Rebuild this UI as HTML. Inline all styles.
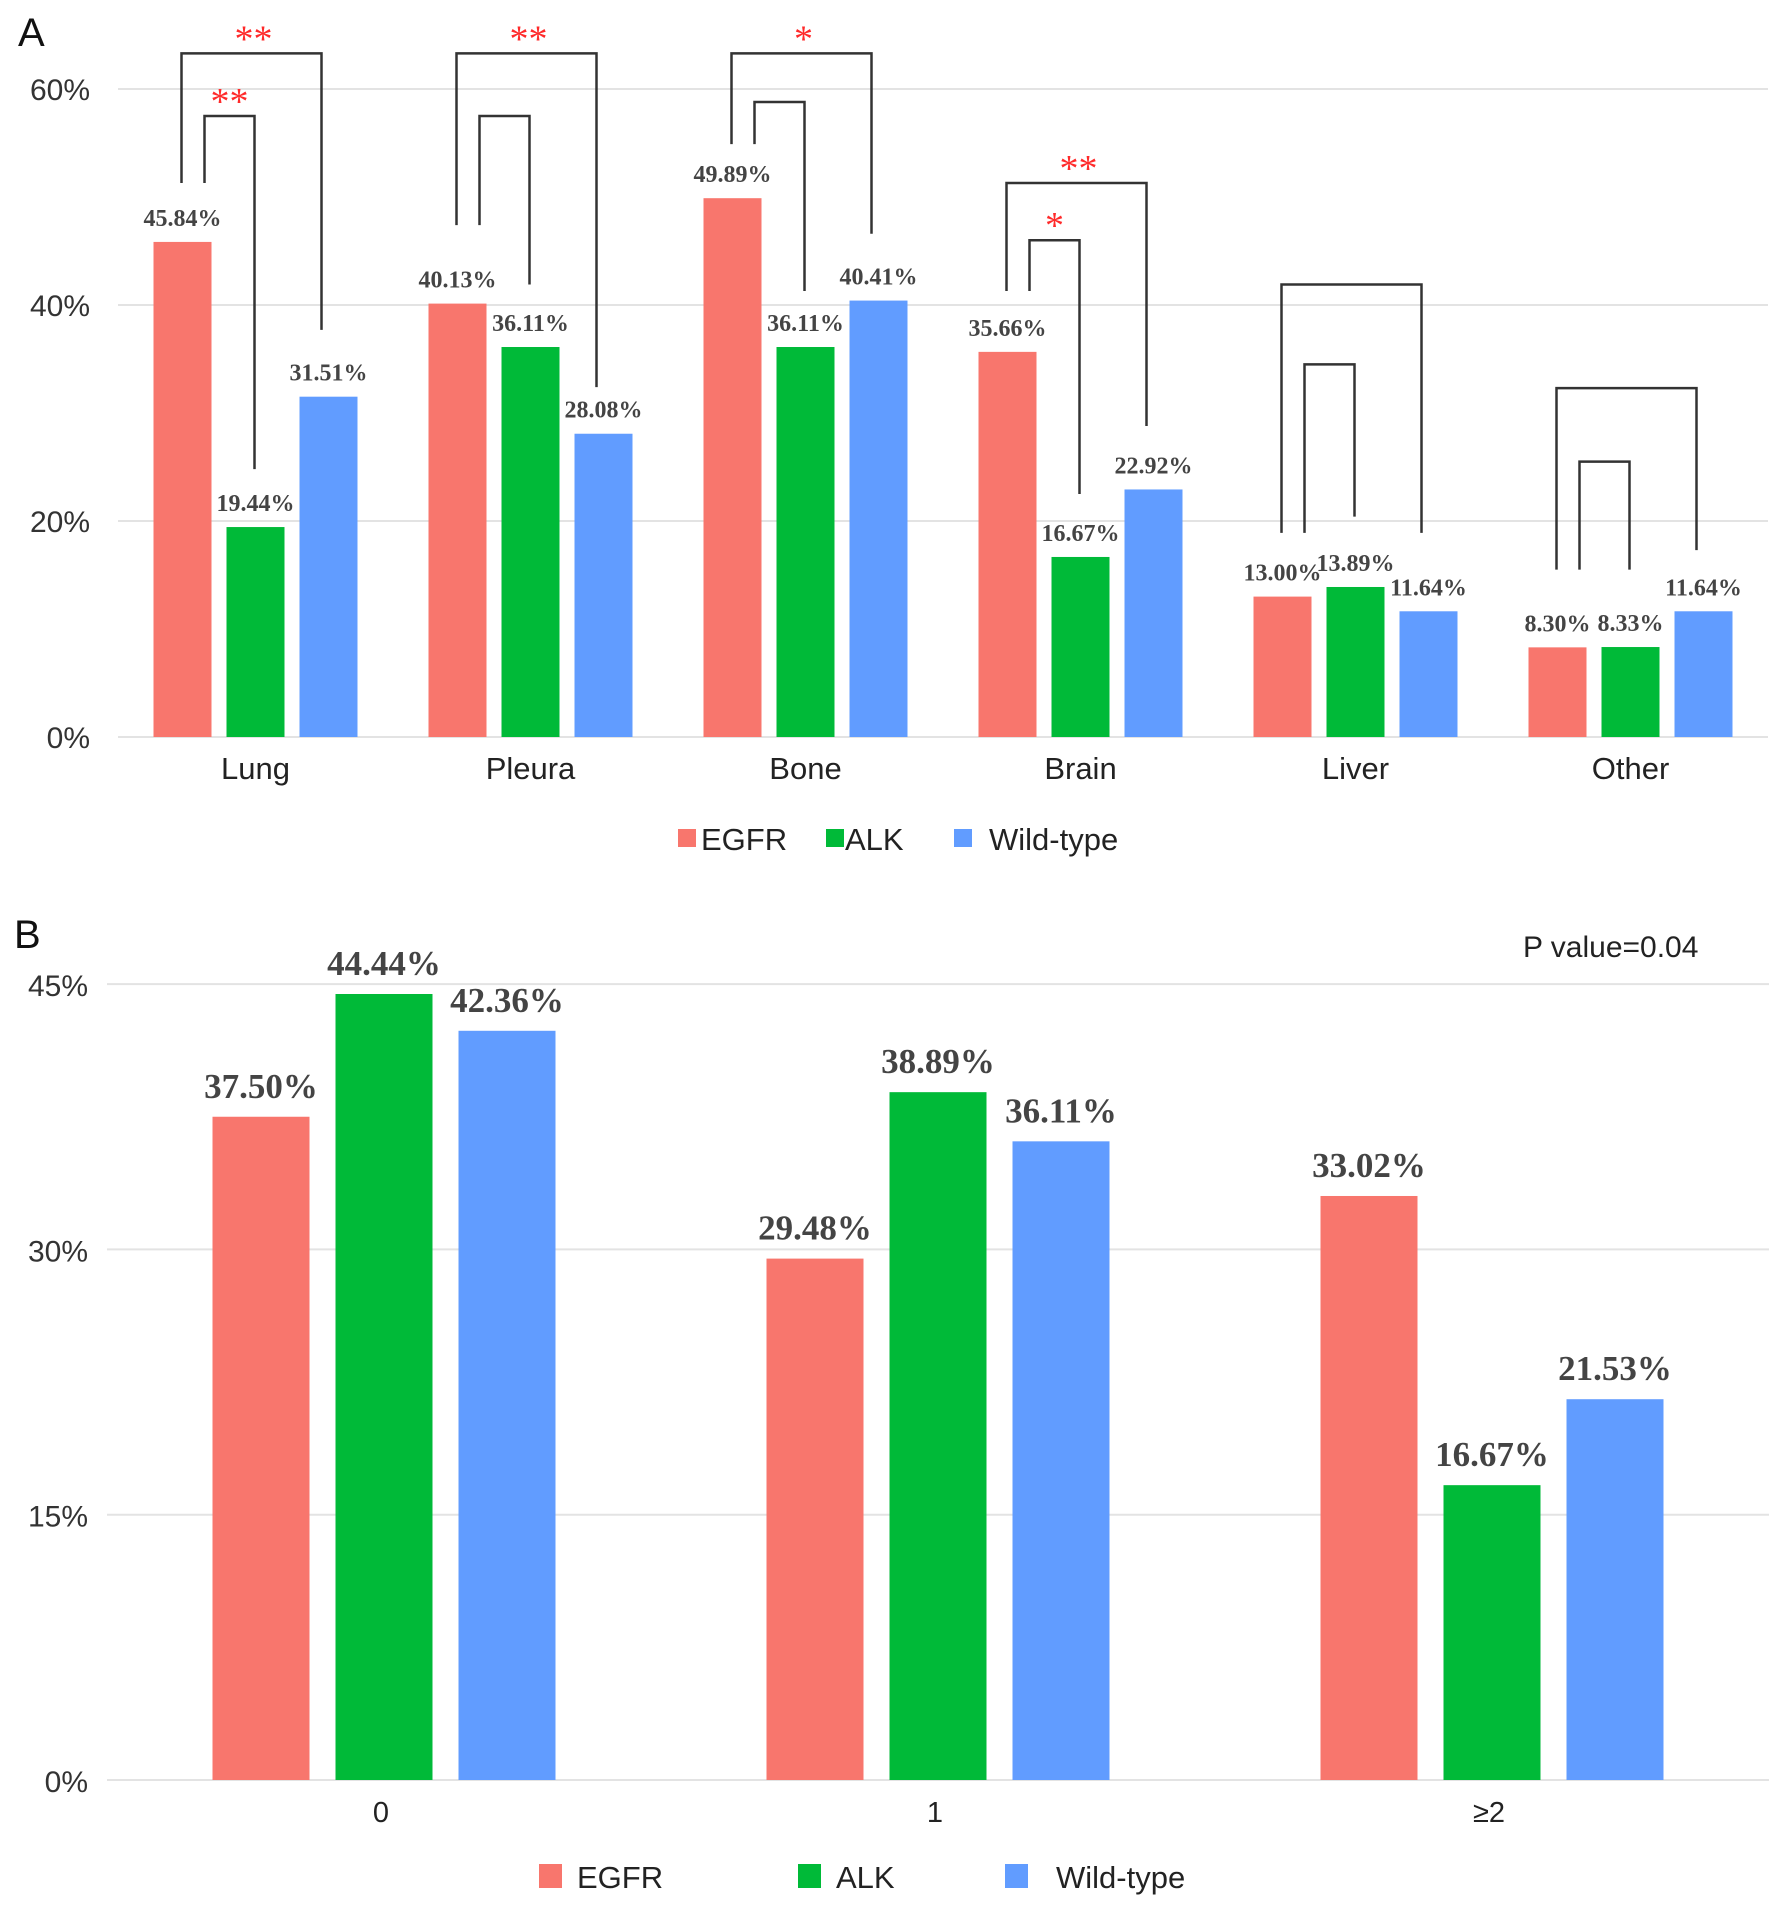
<!DOCTYPE html>
<html><head><meta charset="utf-8">
<style>
html,body{margin:0;padding:0;background:#fff;}
svg{display:block;}
</style></head>
<body>
<svg id="chart" width="1783" height="1913" viewBox="0 0 1783 1913" xmlns="http://www.w3.org/2000/svg">
<rect x="0" y="0" width="1783" height="1913" fill="#fff"/>
<text x="18" y="46" font-family="Liberation Sans, sans-serif" font-size="40" fill="#111">A</text>
<text x="14" y="948" font-family="Liberation Sans, sans-serif" font-size="40" fill="#111">B</text>
<text x="1523" y="957" font-family="Liberation Sans, sans-serif" font-size="30" fill="#222">P value=0.04</text>
</svg>
<script>
// ---------- Panel A data ----------
const catsA = ['Lung','Pleura','Bone','Brain','Liver','Other'];
const egfrA = [45.84, 40.13, 49.89, 35.66, 13.00, 8.30];
const alkA  = [19.44, 36.11, 36.11, 16.67, 13.89, 8.33];
const wildA = [31.51, 28.08, 40.41, 22.92, 11.64, 11.64];
const ticksA = [0, 20, 40, 60];
// brackets: [outerTop, outerLeftBottom, outerRightBottom, innerTop, innerLeftBottom, innerRightBottom] in %
const bracketA = [
  [63.3, 51.3, 37.7, 57.5, 51.3, 24.8],
  [63.3, 47.4, 32.4, 57.5, 47.4, 41.9],
  [63.3, 54.9, 46.6, 58.8, 54.9, 41.3],
  [51.3, 41.3, 28.8, 46.0, 41.3, 22.5],
  [41.9, 18.9, 18.9, 34.5, 18.9, 20.4],
  [32.3, 15.5, 17.3, 25.5, 15.5, 15.5]
];
const starsOuterA = ['**','**','*','**','',''];
const starsInnerA = ['**','','','*','',''];
// ---------- Panel B data ----------
const catsB = ['0','1','≥2'];
const egfrB = [37.50, 29.48, 33.02];
const alkB  = [44.44, 38.89, 16.67];
const wildB = [42.36, 36.11, 21.53];
const ticksB = [0, 15, 30, 45];

const seriesNames = ['EGFR','ALK','Wild-type'];
const colors = ['#F8766D','#00BA38','#619CFF'];
const NS = 'http://www.w3.org/2000/svg';
const svg = document.getElementById('chart');
function mk(tag, attrs, parent){
  const e = document.createElementNS(NS, tag);
  for (const k in attrs) e.setAttribute(k, attrs[k]);
  (parent||svg).appendChild(e);
  return e;
}
const SANS = 'Liberation Sans, sans-serif';
const SERIF = 'Liberation Serif, serif';

// ---------- Panel A ----------
const A = {left:118, right:1768, y0:737, pxPer: 10.8};
const yA = v => A.y0 - v * A.pxPer;
const bandA = (A.right - A.left) / catsA.length;
const barWA = 58, pitchA = 73;
const xA = (i, s) => A.left + bandA * (i + 0.5) + (s - 1) * pitchA - barWA / 2;

ticksA.forEach(t => {
  const g = mk('line', {x1:A.left, x2:A.right, y1:yA(t), y2:yA(t), stroke:'#e3e3e3', 'stroke-width':2});
  
  
  const l = mk('text', {x:90, y:yA(t)+11, 'text-anchor':'end', 'font-family':SANS, 'font-size':30, fill:'#333'});
  l.textContent = t + '%';
  
  
});
const seriesA = [egfrA, alkA, wildA];
catsA.forEach((c, i) => {
  seriesA.forEach((arr, s) => {
    const v = arr[i];
    const r = mk('rect', {x:xA(i,s), y:yA(v), width:barWA, height:yA(0)-yA(v), fill:colors[s]});
    
    
    const t = mk('text', {x:xA(i,s)+barWA/2, y:yA(v)-16, 'text-anchor':'middle', 'font-family':SERIF, 'font-weight':'bold', 'font-size':24, fill:'#444'});
    t.textContent = v.toFixed(2) + '%';
    
    
  });
  const cl = mk('text', {x:A.left + bandA*(i+0.5), y:779, 'text-anchor':'middle', 'font-family':SANS, 'font-size':31, fill:'#222'});
  cl.textContent = c;
  
  
  // brackets
  const b = bracketA[i];
  const cE = xA(i,0)+barWA/2, cK = xA(i,1)+barWA/2, cW = xA(i,2)+barWA/2;
  const oL = cE - 1, oR = cW - 7, iL = cE + 22, iR = cK - 1;
  const po = mk('polyline', {points:`${oL},${yA(b[1])} ${oL},${yA(b[0])} ${oR},${yA(b[0])} ${oR},${yA(b[2])}`, fill:'none', stroke:'#333', 'stroke-width':2.5});
  
  
  const pi = mk('polyline', {points:`${iL},${yA(b[4])} ${iL},${yA(b[3])} ${iR},${yA(b[3])} ${iR},${yA(b[5])}`, fill:'none', stroke:'#333', 'stroke-width':2.5});
  
  
  if (starsOuterA[i]) {
    const st = mk('text', {x:(oL+oR)/2+2, y:yA(b[0])-2, 'text-anchor':'middle', 'font-family':SERIF, 'font-size':38, fill:'#ff2a2a'});
    st.textContent = starsOuterA[i];
    
    
  }
  if (starsInnerA[i]) {
    const st = mk('text', {x:(iL+iR)/2, y:yA(b[3])-2, 'text-anchor':'middle', 'font-family':SERIF, 'font-size':38, fill:'#ff2a2a'});
    st.textContent = starsInnerA[i];
    
    
  }
});
// legend A
const legA = [[678,701],[826,845],[954,989]];
legA.forEach((p, s) => {
  const r = mk('rect', {x:p[0], y:829, width:18, height:18, fill:colors[s]});
  
  
  const t = mk('text', {x:p[1], y:850, 'font-family':SANS, 'font-size':31, fill:'#222'});
  t.textContent = seriesNames[s];
  
  
});

// ---------- Panel B ----------
const B = {left:107, right:1769, y0:1780, pxPer: 265.3/15};
const yB = v => B.y0 - v * B.pxPer;
const bandB = (B.right - B.left) / catsB.length;
const barWB = 97, pitchB = 123;
const xB = (i, s) => B.left + bandB * (i + 0.5) + (s - 1) * pitchB - barWB / 2;
ticksB.forEach(t => {
  const g = mk('line', {x1:B.left, x2:B.right, y1:yB(t), y2:yB(t), stroke:'#e3e3e3', 'stroke-width':2});
  
  
  const l = mk('text', {x:88, y:yB(t)+12, 'text-anchor':'end', 'font-family':SANS, 'font-size':30, fill:'#333'});
  l.textContent = t + '%';
  
  
});
const seriesB = [egfrB, alkB, wildB];
catsB.forEach((c, i) => {
  seriesB.forEach((arr, s) => {
    const v = arr[i];
    const r = mk('rect', {x:xB(i,s), y:yB(v), width:barWB, height:yB(0)-yB(v), fill:colors[s]});
    
    
    const t = mk('text', {x:xB(i,s)+barWB/2, y:yB(v)-19, 'text-anchor':'middle', 'font-family':SERIF, 'font-weight':'bold', 'font-size':35, fill:'#444'});
    t.textContent = v.toFixed(2) + '%';
    
    
  });
  const cl = mk('text', {x:B.left + bandB*(i+0.5) - 3, y:1822, 'text-anchor':'middle', 'font-family':SANS, 'font-size':29, fill:'#222'});
  cl.textContent = c;
  
  
});
const legB = [[539,577],[798,836],[1005,1056]];
legB.forEach((p, s) => {
  const r = mk('rect', {x:p[0], y:1864, width:23, height:24, fill:colors[s]});
  
  
  const t = mk('text', {x:p[1], y:1888, 'font-family':SANS, 'font-size':31, fill:'#222'});
  t.textContent = seriesNames[s];
  
  
});
</script>
</body></html>
